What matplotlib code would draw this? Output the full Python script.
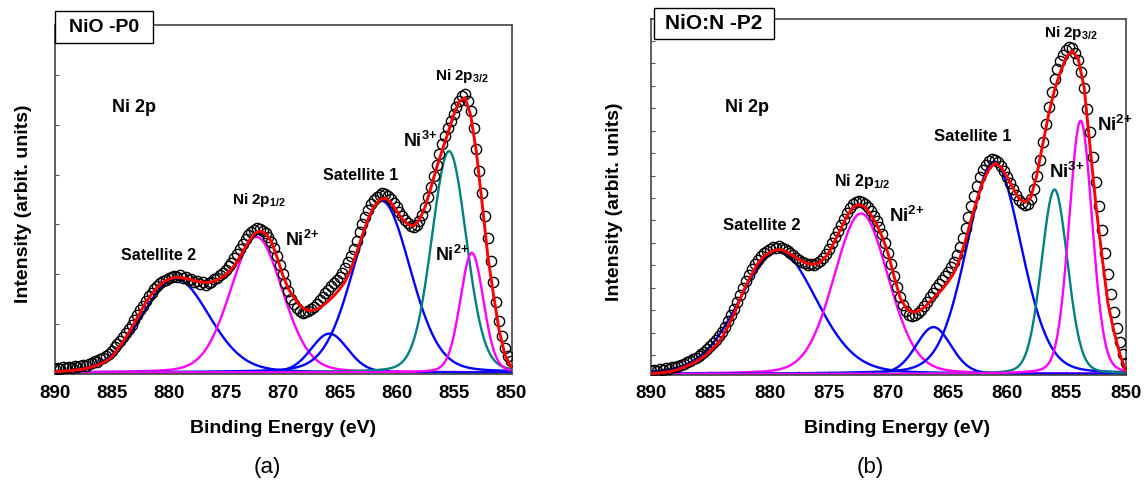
import numpy as np
import matplotlib.pyplot as plt
from matplotlib.patches import Rectangle

plt.rcParams['font.family'] = ['Liberation Sans', 'DejaVu Sans']
plt.rcParams['mathtext.fontset'] = 'custom'
plt.rcParams['mathtext.rm'] = 'Liberation Sans:bold'
plt.rcParams['mathtext.it'] = 'Liberation Sans:bold'
plt.rcParams['mathtext.bf'] = 'Liberation Sans:bold'

# binding energy grids (eV)
energy = np.linspace(890, 850, 161)      # measured points, 0.25 eV step
fit_energy = np.linspace(890, 850, 81)   # fit envelope, 0.5 eV step

# ---- NiO -P0 ----
p0_counts = [
    4, 5, 4, 6, 5, 6, 5, 7, 6, 7, 8, 7, 9, 10, 12, 11, 14, 15, 17, 19,
    22, 26, 29, 32, 36, 40, 44, 48, 53, 58, 63, 67, 72, 77, 80, 84, 87, 90, 92, 93,
    95, 96, 97, 96, 98, 95, 96, 93, 94, 91, 92, 89, 91, 88, 90, 91, 94, 95, 98, 100,
    103, 107, 110, 115, 119, 124, 129, 134, 138, 141, 143, 145, 144, 142, 140, 136, 131, 125, 117, 108,
    99, 90, 82, 74, 69, 65, 62, 60, 61, 62, 64, 66, 69, 73, 76, 80, 83, 87, 90, 93,
    96, 100, 105, 111, 117, 124, 132, 141, 149, 156, 163, 169, 173, 176, 178, 180, 179, 177, 174, 170,
    166, 161, 157, 153, 150, 147, 146, 148, 152, 158, 166, 176, 186, 197, 208, 219, 229, 237, 245, 252,
    259, 266, 272, 277, 279, 272, 262, 245, 224, 202, 180, 157, 135, 112, 91, 71, 52, 37, 25, 17,
    12]
p0_fit = [
    0.8, 1.2, 1.6, 2.0, 2.7, 3.5, 4.8, 6.4, 8.5, 11.3,
    15.5, 23, 31, 40, 50, 60, 70.5, 78.5, 85.5, 90.5,
    93.5, 95.2, 95.3, 94.4, 93, 91.4, 90.5, 90.3, 91.6, 94.3,
    98, 103.5, 111, 121, 131, 139, 142, 139.5, 131.5, 116,
    98, 84, 75, 67, 63, 62, 63.5, 67, 71.5, 77,
    83.5, 91.5, 104, 120.5, 138, 154, 166, 173, 175, 170.5,
    162, 154, 148.5, 147, 153, 166, 185, 205, 223, 240,
    258, 272, 275.5, 258, 221, 170, 117, 78, 42, 18, 6]
# components: Sat 2, Ni2+ (2p1/2), small sat, Sat 1, Ni3+, Ni2+ (2p3/2)
p0_centers = [879.4, 872.3, 865.9, 861.3, 855.4, 853.4]
p0_fwhm = [7.0, 5.4, 3.8, 5.9, 3.6, 2.4]
p0_heights = [94, 136, 39, 172, 222, 120]

# ---- NiO:N -P2 ----
p2_counts = [
    3, 4, 3, 5, 4, 6, 5, 7, 7, 8, 9, 10, 12, 13, 15, 16, 18, 20, 22, 25,
    28, 31, 34, 38, 42, 47, 53, 59, 65, 72, 79, 86, 93, 99, 105, 110, 114, 118, 121, 123,
    125, 127, 126, 128, 126, 125, 123, 121, 119, 116, 114, 112, 111, 109, 110, 109, 111, 113, 116, 120,
    125, 131, 137, 143, 149, 155, 161, 166, 170, 172, 173, 172, 170, 167, 163, 158, 153, 147, 140, 131,
    121, 110, 98, 87, 77, 69, 63, 59, 58, 59, 61, 64, 68, 72, 77, 81, 86, 90, 94, 98,
    102, 107, 112, 119, 127, 136, 146, 157, 168, 179, 189, 198, 205, 210, 214, 216, 215, 213, 209, 204,
    198, 192, 186, 180, 175, 171, 169, 170, 176, 186, 199, 215, 233, 251, 268, 283, 296, 306, 314, 320,
    325, 328, 327, 322, 315, 303, 287, 266, 243, 218, 193, 168, 144, 121, 100, 80, 62, 46, 32, 20,
    11]
p2_fit = [
    0.3, 0.8, 1.4, 2.3, 3.5, 5.5, 8, 10.5, 14, 18,
    23, 29, 37, 48, 60, 75, 89, 100, 111, 118,
    122, 124.5, 124.5, 122, 118.5, 114.5, 111.5, 110, 110.5, 114.5,
    122, 134, 146, 158, 167, 170, 167.5, 160, 150, 137,
    120, 97, 76, 66, 62, 63, 66.5, 72.5, 78.5, 84.5,
    92, 101, 115, 134, 156, 176, 194, 206, 211.5, 207.5,
    198, 186.5, 176, 172, 177, 199, 230, 260, 285, 303,
    318, 324, 316, 287, 227, 168, 118, 71, 43, 20, 3]
p2_centers = [879.3, 872.3, 866.2, 861.1, 856.0, 853.8]
p2_fwhm = [7.6, 5.4, 3.5, 5.4, 2.6, 2.3]
p2_heights = [124, 161, 47, 213, 185, 254]

peak_colors = ['#0000ff', '#ff00ff', '#0000ff', '#0000ff', '#008080', '#ff00ff']

NI2 = 'Ni$^{2{+}}$'
NI3 = 'Ni$^{3{+}}$'


def pseudo_voigt(x, c, w, h, m=0.15):
    g = np.exp(-4 * np.log(2) * (x - c) ** 2 / w ** 2)
    l = 1 / (1 + 4 * (x - c) ** 2 / w ** 2)
    return h * ((1 - m) * g + m * l)


def draw_panel(ax, counts, fit, centers, fwhm, heights, ytop, yticks):
    xx = np.linspace(890, 850, 801)
    for c, w, h, col in zip(centers, fwhm, heights, peak_colors):
        ax.plot(xx, pseudo_voigt(xx, c, w, h), color=col, lw=1.7, zorder=2)
    ax.plot(energy, counts, 'o', ms=7.4, mfc='none', mec='black', mew=1.0, zorder=3)
    ax.plot(fit_energy, fit, color='#ff0000', lw=2.1, zorder=4)
    ax.set_xlim(890, 849.9)
    ax.set_ylim(-1, ytop)
    ax.set_xticks(np.arange(890, 849, -5))
    ax.set_xticks(np.arange(887.5, 850, -5), minor=True)
    ax.set_yticks(yticks)
    ax.tick_params(axis='both', which='both', direction='in', color='#555555',
                   length=3, width=0.8, labelleft=False)
    ax.tick_params(axis='x', which='major', labelsize=13.5, pad=8)
    for lab in ax.get_xticklabels():
        lab.set_fontweight('bold')
    for s in ax.spines.values():
        s.set_color('#444444')
        s.set_linewidth(1.2)
    ax.set_xlabel('Binding Energy (eV)', fontsize=14, fontweight='bold')
    ax.set_ylabel('Intensity (arbit. units)', fontsize=14, fontweight='bold')


fig = plt.figure(figsize=(11.48, 4.94), dpi=100)

ax1 = fig.add_axes([0.04765, 0.2439, 0.3981, 0.7055])
draw_panel(ax1, p0_counts, p0_fit, p0_centers, p0_fwhm, p0_heights,
           348.5, np.arange(48.5, 348, 50))
ax1.xaxis.set_label_coords(0.5, -0.133)
ax1.yaxis.set_label_coords(-0.05, 0.486)
bold = dict(fontweight='bold')
ax1.text(883.0, 266, 'Ni 2p', ha='center', va='center', fontsize=13, **bold)
ax1.text(880.9, 117, 'Satellite 2', ha='center', va='center', fontsize=11.5, **bold)
ax1.text(874.4, 168.5, 'Ni 2p$_{1/2}$', ha='left', va='baseline', fontsize=11, **bold)
ax1.text(869.8, 126.5, NI2, ha='left', va='baseline', fontsize=13, **bold)
ax1.text(863.2, 197.5, 'Satellite 1', ha='center', va='center', fontsize=11.5, **bold)
ax1.text(859.45, 226.5, NI3, ha='left', va='baseline', fontsize=13, **bold)
ax1.text(856.6, 111.5, NI2, ha='left', va='baseline', fontsize=13, **bold)
ax1.text(856.6, 293.5, 'Ni 2p$_{3/2}$', ha='left', va='baseline', fontsize=11, **bold)

ax2 = fig.add_axes([0.5671, 0.2409, 0.4135, 0.7206])
draw_panel(ax2, p2_counts, p2_fit, p2_centers, p2_fwhm, p2_heights,
           356, np.arange(19, 356, 22.5))
ax2.set_xlim(890, 850)
ax2.xaxis.set_label_coords(0.519, -0.126)
ax2.yaxis.set_label_coords(-0.059, 0.487)
ax2.tick_params(axis='x', which='major', pad=7)
ax2.text(881.9, 267.5, 'Ni 2p', ha='center', va='center', fontsize=13, **bold)
ax2.text(880.66, 148.5, 'Satellite 2', ha='center', va='center', fontsize=12, **bold)
ax2.text(874.6, 189, 'Ni 2p$_{1/2}$', ha='left', va='baseline', fontsize=11.5, **bold)
ax2.text(869.97, 152, NI2, ha='left', va='baseline', fontsize=13.5, **bold)
ax2.text(862.9, 238.5, 'Satellite 1', ha='center', va='center', fontsize=12, **bold)
ax2.text(856.5, 197, NI3, ha='left', va='baseline', fontsize=13.5, **bold)
ax2.text(852.4, 244, NI2, ha='left', va='baseline', fontsize=13.5, **bold)
ax2.text(856.9, 338, 'Ni 2p$_{3/2}$', ha='left', va='baseline', fontsize=11, **bold)

# sample name boxes sitting on the top spine
fig.add_artist(Rectangle((0.0479, 0.913), 0.0854, 0.0648, transform=fig.transFigure,
                         fc='white', ec='black', lw=1.0, zorder=5))
fig.text(0.0906, 0.9453, 'NiO -P0', ha='center', va='center', fontsize=14,
         fontweight='bold', zorder=6)
fig.add_artist(Rectangle((0.5697, 0.9211), 0.1045, 0.0628, transform=fig.transFigure,
                         fc='white', ec='black', lw=1.0, zorder=5))
fig.text(0.622, 0.9524, 'NiO:N -P2', ha='center', va='center', fontsize=15,
         fontweight='bold', zorder=6)

fig.text(0.233, 0.0536, '(a)', ha='center', va='center', fontsize=16)
fig.text(0.758, 0.0536, '(b)', ha='center', va='center', fontsize=16)

fig.savefig('out.png', dpi=100)
